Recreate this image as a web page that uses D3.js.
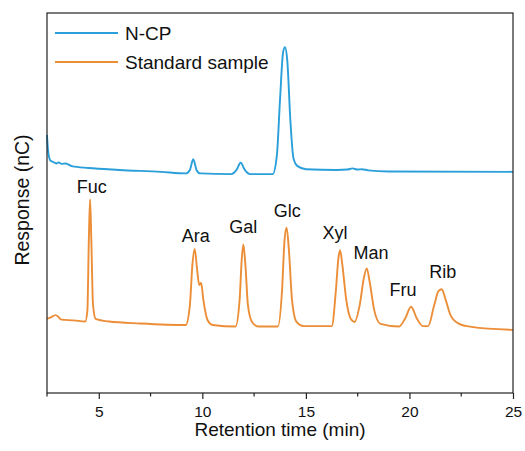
<!DOCTYPE html>
<html>
<head>
<meta charset="utf-8">
<script src="https://d3js.org/d3.v7.min.js"></script>
<style>
  body { margin: 0; background: #fff; }
  text { font-family: "Liberation Sans", Arial, sans-serif; fill: #111; }
</style>
</head>
<body>
<div id="chart"></div>
<script>
// N-CP chromatogram, [time (min), response]
const ncpTime = [2.5, 2.55, 2.65, 2.8, 2.95, 3.05, 3.2, 3.4, 3.7, 4.5, 6, 8, 9.2, 9.4, 9.56, 9.72, 9.9,
  11.4, 11.65, 11.85, 12.05, 12.3, 13.4, 13.6, 13.75, 13.9, 13.99, 14.1, 14.25, 14.4, 14.6, 15,
  16.5, 17.0, 17.25, 17.5, 17.7, 18.0, 19, 25];
const ncpResp = [67.9, 63.9, 61.3, 60.8, 60.4, 60.7, 60.3, 60.4, 59.7, 59.2, 58.7, 58.2, 57.8, 58.7, 61.5, 58.7, 57.8,
  57.6, 58.7, 60.6, 58.7, 57.6, 57.6, 62.6, 77.1, 89.7, 91.0, 87.6, 71.8, 61.8, 59.7, 58.9,
  58.7, 58.8, 59.1, 58.8, 58.9, 58.6, 58.3, 58.2];

// Standard sample chromatogram
const stdTime = [2.5, 2.6, 2.93, 3.2, 3.8, 4.35, 4.45, 4.52, 4.58, 4.64, 4.72, 4.85, 5.5, 7, 9.2,
  9.4, 9.52, 9.63, 9.75, 9.85, 9.94, 10.05, 10.25, 10.5, 11.6, 11.8, 11.9, 11.98, 12.08, 12.2, 12.4, 12.7,
  13.65, 13.85, 13.97, 14.07, 14.18, 14.33, 14.55, 14.9, 16.25, 16.45, 16.57, 16.65, 16.76, 16.95,
  17.15, 17.35, 17.6, 17.8, 17.94, 18.08, 18.3, 18.6, 19.5, 19.8, 20.08, 20.35, 20.65, 20.9,
  21.2, 21.4, 21.56, 21.75, 22.0, 22.4, 23, 25];
const stdResp = [19.6, 19.7, 20.5, 19.3, 19.1, 18.8, 21.8, 40.3, 51.0, 40.3, 23.4, 19.5, 18.8, 18.3, 17.9,
  23.2, 33.7, 37.9, 32.4, 28.4, 29.0, 24.5, 19.2, 17.9, 17.5, 24.5, 35.0, 39.1, 33.7, 23.2, 18.7, 17.5,
  17.5, 27.1, 40.3, 43.5, 37.6, 24.5, 18.7, 17.6, 17.6, 27.1, 35.5, 37.6, 33.7, 24.5,
  19.7, 18.7, 23.2, 30.3, 32.8, 29.2, 21.8, 18.2, 17.5, 19.7, 22.7, 19.7, 17.6, 17.6,
  23.2, 26.8, 27.3, 24.5, 20.3, 18.2, 17.4, 16.6];

// peak labels
const peakNames = ["Fuc", "Ara", "Gal", "Glc", "Xyl", "Man", "Fru", "Rib"];
const peakTimes = [4.66, 9.68, 11.98, 14.1, 16.41, 18.14, 19.69, 21.61];
const peakLabelResp = [54.3, 41.3, 43.8, 48.0, 42.1, 36.8, 27.1, 31.9];

const xTicks = [5, 10, 15, 20, 25];
const xMinor = [2.5, 7.5, 12.5, 17.5, 22.5];

const blue = "#2b9fd9", orange = "#ec8e37";

const W = 525, H = 451;
const margin = {top: 13, right: 12, bottom: 58, left: 47};
const width = W - margin.left - margin.right,
      height = H - margin.top - margin.bottom;

const svg = d3.select("#chart").append("svg")
    .attr("width", W).attr("height", H);
const g = svg.append("g")
    .attr("transform", "translate(" + margin.left + "," + margin.top + ")");

const x = d3.scaleLinear().domain([2.5, 25]).range([0, width]);
const y = d3.scaleLinear().domain([0, 100]).range([height, 0]);

const line = d3.line()
    .x(d => x(d[0])).y(d => y(d[1]))
    .curve(d3.curveMonotoneX);

g.append("path")
    .datum(d3.zip(stdTime, stdResp))
    .attr("fill", "none").attr("stroke", orange).attr("stroke-width", 1.9)
    .attr("d", line);
g.append("path")
    .datum(d3.zip(ncpTime, ncpResp))
    .attr("fill", "none").attr("stroke", blue).attr("stroke-width", 1.9)
    .attr("d", line);

// frame
g.append("rect")
    .attr("width", width).attr("height", height)
    .attr("fill", "none").attr("stroke", "#222").attr("stroke-width", 1.2);

const xAxis = g.append("g")
    .attr("transform", "translate(0," + height + ")")
    .call(d3.axisBottom(x).tickValues(xTicks).tickSize(6).tickPadding(7).tickFormat(d3.format("d")));
xAxis.select(".domain").remove();
xAxis.selectAll("line").attr("stroke", "#222").attr("stroke-width", 1.2);
xAxis.selectAll("text").style("font-size", "15.5px").attr("fill", "#111");

g.append("g").selectAll("line")
    .data(xMinor).enter().append("line")
    .attr("x1", d => x(d)).attr("x2", d => x(d))
    .attr("y1", height).attr("y2", height + 3.5)
    .attr("stroke", "#222").attr("stroke-width", 1.2);

g.append("text")
    .attr("x", width / 2).attr("y", height + 36)
    .attr("dy", "0.35em")
    .attr("text-anchor", "middle").style("font-size", "19px")
    .text("Retention time (min)");

svg.append("text")
    .attr("transform", "translate(22,200) rotate(-90)")
    .attr("dy", "0.35em")
    .attr("text-anchor", "middle").style("font-size", "19.5px")
    .text("Response (nC)");

// peak labels
g.selectAll("text.peak")
    .data(peakNames).enter().append("text")
    .attr("class", "peak")
    .attr("x", (d, i) => x(peakTimes[i]))
    .attr("y", (d, i) => y(peakLabelResp[i]))
    .attr("dy", "0.35em")
    .attr("text-anchor", "middle").style("font-size", "18px")
    .text(d => d);

// legend
const legend = [["N-CP", blue], ["Standard sample", orange]];
const lg = g.selectAll("g.leg").data(legend).enter().append("g")
    .attr("transform", (d, i) => "translate(8," + (20 + i * 29) + ")");
lg.append("line").attr("x1", 0).attr("x2", 63)
    .attr("stroke", d => d[1]).attr("stroke-width", 1.9);
lg.append("text").attr("x", 70).attr("dy", "0.35em")
    .style("font-size", "19px").text(d => d[0]);
</script>
</body>
</html>
